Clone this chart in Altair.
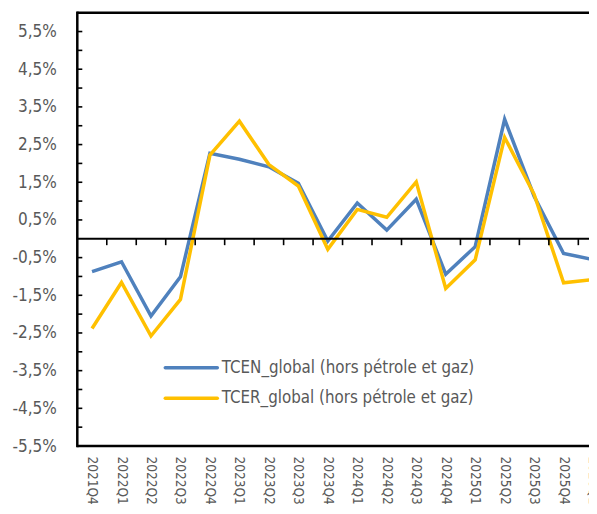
import altair as alt
import pandas as pd

# ---- data ----
quarters = ["2021Q4", "2022Q1", "2022Q2", "2022Q3", "2022Q4", "2023Q1", "2023Q2",
            "2023Q3", "2023Q4", "2024Q1", "2024Q2", "2024Q3", "2024Q4", "2025Q1",
            "2025Q2", "2025Q3", "2025Q4", "2026Q1"]
tcen = [-0.87, -0.61, -2.05, -1.01, 2.27, 2.11, 1.91, 1.47, -0.06, 0.95, 0.23, 1.05,
        -0.94, -0.21, 3.17, 1.13, -0.39, -0.55]
tcer = [-2.38, -1.16, -2.58, -1.61, 2.22, 3.12, 1.97, 1.40, -0.28, 0.78, 0.57, 1.51,
        -1.32, -0.56, 2.69, 1.18, -1.17, -1.08]
series_names = ["TCEN_global (hors pétrole et gaz)", "TCER_global (hors pétrole et gaz)"]
series_colors = ["#4F81BD", "#FFC000"]
y_label_values = [-5.5, -4.5, -3.5, -2.5, -1.5, -0.5, 0.5, 1.5, 2.5, 3.5, 4.5, 5.5]
y_tick_values = [-5.5, -5.0, -4.5, -4.0, -3.5, -3.0, -2.5, -2.0, -1.5, -1.0, -0.5,
                 0.5, 1.0, 1.5, 2.0, 2.5, 3.0, 3.5, 4.0, 4.5, 5.0, 5.5]
y_domain = [-5.5, 6.0]
title_text = "TCER/TCEN"

FONT = "DejaVu Sans Condensed, Liberation Sans Narrow, DejaVu Sans, sans-serif"
GREY = "#595959"

PAD_L, PAD_T = 69.3, 4.7
W = 581 - PAD_L          # visible part of the plot (the chart runs past the page edge)
FULL_W = 530.5           # full band range, as in the (cropped) reference
H = 433.3
PAD_B = 497 - PAD_T - H

df = pd.DataFrame({
    "quarter": quarters * 2,
    "value": tcen + tcer,
    "series": [series_names[0]] * len(quarters) + [series_names[1]] * len(quarters),
})

xscale = alt.Scale(type="band", domain=quarters, paddingInner=0, paddingOuter=0,
                   round=False, range=[0, FULL_W])
yscale = alt.Scale(domain=y_domain, nice=False, zero=False, round=False)

x_axis = alt.Axis(labelAngle=90, domain=False, ticks=False, labelPadding=10,
                  labelFont=FONT, labelFontSize=13.5, labelColor=GREY,
                  title=None, grid=False, orient="bottom")
y_axis = alt.Axis(values=y_label_values,
                  labelExpr="(datum.value < 0 ? '-' : '') + "
                            "replace(format(abs(datum.value), '.1f'), '.', ',') + '%'",
                  domain=False, ticks=False, grid=False, labelPadding=21,
                  labelFont=FONT, labelFontSize=17, labelColor=GREY, title=None,
                  orient="left")

lines = alt.Chart(df).mark_line(strokeWidth=3.5, strokeJoin="miter").encode(
    x=alt.X("quarter:N", scale=xscale, bandPosition=0.5, axis=x_axis),
    y=alt.Y("value:Q", scale=yscale, axis=y_axis),
    color=alt.Color("series:N", scale=alt.Scale(domain=series_names, range=series_colors),
                    legend=None),
)

zero_line = alt.Chart(pd.DataFrame({"value": [0.0]})).mark_rule(
    color="black", strokeWidth=1.8).encode(
    y=alt.Y("value:Q", scale=yscale, axis=y_axis),
    x=alt.value(0),
    x2=alt.value(FULL_W),
)

zt = pd.DataFrame({"quarter": quarters[1:]})
zt["value"] = 0.0
zt["value2"] = -0.17
zero_ticks = alt.Chart(zt).mark_rule(color="black", strokeWidth=1.6).encode(
    x=alt.X("quarter:N", scale=xscale, bandPosition=0, axis=x_axis),
    y=alt.Y("value:Q", scale=yscale, axis=y_axis),
    y2="value2:Q",
)

y_ticks = alt.Chart(pd.DataFrame({"value": y_tick_values})).mark_rule(
    color="black", strokeWidth=1.6).encode(
    y=alt.Y("value:Q", scale=yscale, axis=y_axis),
    x=alt.value(0),
    x2=alt.value(5),
)

# plot frame: left, top and bottom sides (the right side lies beyond the page edge)
one = pd.DataFrame({"k": [0]})
frame = [
    alt.Chart(one).mark_rule(color="black", strokeWidth=2.5).encode(
        x=alt.value(0), y=alt.value(-1.25), y2=alt.value(H + 1.25)),
    alt.Chart(one).mark_rule(color="black", strokeWidth=2.5).encode(
        x=alt.value(0), x2=alt.value(FULL_W), y=alt.value(0)),
    alt.Chart(one).mark_rule(color="black", strokeWidth=2.5).encode(
        x=alt.value(0), x2=alt.value(FULL_W), y=alt.value(H)),
]

legend_layers = []
for i, (name, col) in enumerate(zip(series_names, series_colors)):
    ly = 355 + i * 30.6
    d = pd.DataFrame({"label": [name]})
    legend_layers.append(
        alt.Chart(d).mark_rule(color=col, strokeWidth=3.5, strokeCap="round").encode(
            x=alt.value(88), x2=alt.value(140), y=alt.value(ly))
    )
    legend_layers.append(
        alt.Chart(d).mark_text(align="left", baseline="middle", font=FONT, fontSize=16.8,
                               color=GREY).encode(
            x=alt.value(144.5), y=alt.value(ly), text="label:N")
    )

title = alt.Chart(pd.DataFrame({"t": [title_text]})).mark_text(
    align="center", baseline="bottom", font=FONT, fontSize=21, fontWeight="bold",
    color="#404040").encode(x=alt.value(235), y=alt.value(-2.5), text="t:N")

chart = alt.layer(
    lines, zero_line, zero_ticks, y_ticks, *frame, *legend_layers, title
).properties(
    width=W, height=H,
    padding={"left": PAD_L, "top": PAD_T, "right": 0, "bottom": PAD_B},
    autosize=alt.AutoSizeParams(type="none"),
).configure_view(stroke=None)

chart.save("out.html", embed_options={"renderer": "svg", "actions": False})
